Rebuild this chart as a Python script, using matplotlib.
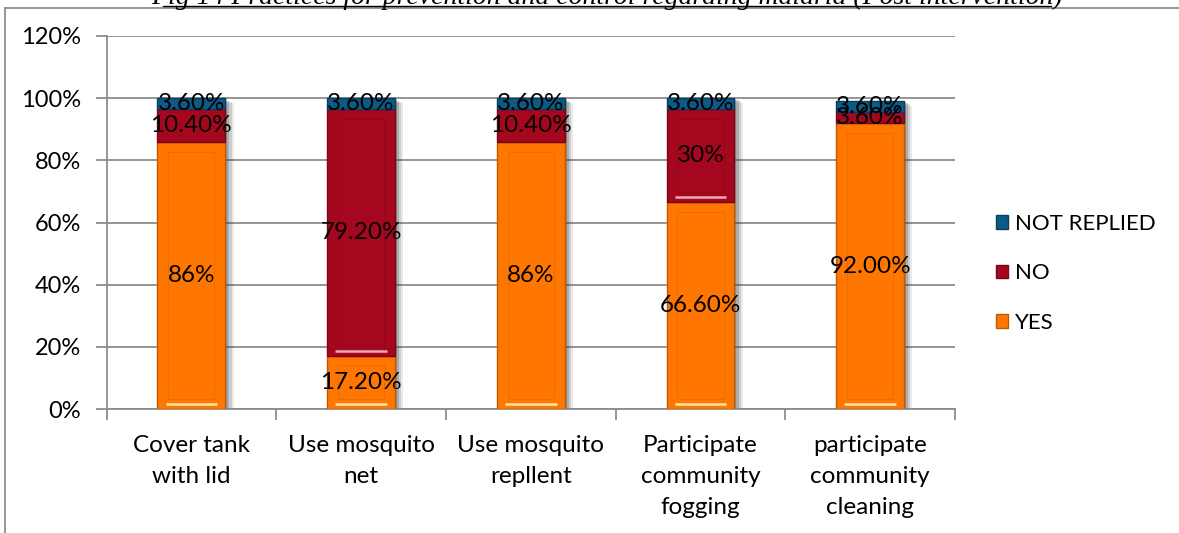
import matplotlib
matplotlib.use("Agg")
import matplotlib.pyplot as plt
import matplotlib.patheffects as pe
from matplotlib.patches import Patch
from matplotlib.lines import Line2D
import numpy as np

categories = ["Cover tank\nwith lid", "Use mosquito\nnet", "Use mosquito\nrepllent",
              "Participate\ncommunity\nfogging", "participate\ncommunity\ncleaning"]
yes_vals = [86.0, 17.2, 86.0, 66.6, 92.0]
no_vals = [10.4, 79.2, 10.4, 30.0, 3.6]
nr_vals = [3.6, 3.6, 3.6, 3.6, 3.6]
yes_labels = ["86%", "17.20%", "86%", "66.60%", "92.00%"]
no_labels = ["10.40%", "79.20%", "10.40%", "30%", "3.60%"]
nr_labels = ["3.60%", "3.60%", "3.60%", "3.60%", "3.60%"]
yticks = [0, 20, 40, 60, 80, 100, 120]

C_YES = "#FF7700"
C_NO = "#A5071E"
C_NR = "#0C5A86"
E_YES = "#C05A00"
E_NO = "#7A0516"
E_NR = "#083E5E"

FONT = "Lato"
FS_TICK = 17
FS_CAT = 17.5
FS_BAR = 17.5
FS_LEG = 16

W, H = 1179, 533
fig = plt.figure(figsize=(W / 100, H / 100), dpi=100)
ax = fig.add_axes([106.5 / W, 1 - 409 / H, (955 - 106.5) / W, (409 - 36) / H])

x = np.arange(len(categories))
w = 0.40
yes = np.array(yes_vals)
no = np.array(no_vals)
nr = np.array(nr_vals)
total = yes + no + nr

# soft drop shadow behind each full stack (layered to fake a blur)
shadow = [pe.SimplePatchShadow(offset=(o, -o * 0.6), shadow_rgbFace="#3A3A3A", alpha=a)
          for o, a in [(6, 0.10), (4.5, 0.16), (3, 0.22), (1.5, 0.25)]]
ax.bar(x, total, w, color="white", zorder=2, path_effects=shadow + [pe.Normal()])

segments = [
    (yes, np.zeros_like(yes), C_YES, E_YES, yes_labels, "#FFE7A8"),
    (no, yes, C_NO, E_NO, no_labels, "#F0A9B4"),
    (nr, yes + no, C_NR, E_NR, nr_labels, "#8FB9D6"),
]
for vals, bottoms, fc, ec, labels, hl in segments:
    ax.bar(x, vals, w, bottom=bottoms, color=fc, edgecolor=ec, linewidth=1.0, zorder=3)
    # bevel: faint inner frame and light bottom highlight on taller segments
    for xi, v, b in zip(x, vals, bottoms):
        if v > 15:
            ax.add_patch(plt.Rectangle((xi - w * 0.34, b + 3.2), w * 0.68, v - 6.4,
                                       fill=False, edgecolor=ec, linewidth=0.7,
                                       alpha=0.35, zorder=4))
            ax.hlines(b + 1.6, xi - w * 0.38, xi + w * 0.38, colors=hl,
                      linewidth=1.8, zorder=4)
    for xi, v, b, lab in zip(x, vals, bottoms, labels):
        ax.text(xi, b + v / 2, lab, ha="center", va="center",
                fontsize=FS_BAR, family=FONT, color="black", zorder=6)

ax.set_xlim(-0.5, len(categories) - 0.5)
ax.set_ylim(0, 120)
ax.set_yticks(yticks)
ax.set_yticklabels([f"{t}%" for t in yticks], fontsize=FS_TICK, family=FONT)
ax.tick_params(axis="y", length=8, width=1.3, color="#8C8C8C", pad=10.5)

ax.set_xticks(np.arange(-0.5, len(categories)), minor=False)
ax.set_xticklabels([])
ax.tick_params(axis="x", which="major", length=8, width=1.3, color="#8C8C8C", direction="out")
ax.set_xticks(x, minor=True)
ax.set_xticklabels(categories, minor=True, fontsize=FS_CAT, family=FONT, linespacing=1.6)
ax.tick_params(axis="x", which="minor", length=0, pad=18.5)

ax.yaxis.grid(True, color="#8C8C8C", linewidth=1.3, zorder=0)
ax.set_axisbelow(True)
for s in ["top", "right"]:
    ax.spines[s].set_visible(False)
for s in ["left", "bottom"]:
    ax.spines[s].set_color("#8C8C8C")
    ax.spines[s].set_linewidth(1.3)

handles = [Patch(facecolor=C_NR, edgecolor=E_NR, label="NOT REPLIED"),
           Patch(facecolor=C_NO, edgecolor=E_NO, label="NO"),
           Patch(facecolor=C_YES, edgecolor=E_YES, label="YES")]
fig.legend(handles=handles, loc="upper left", bbox_to_anchor=(996 / W, 1 - 214 / H),
           frameon=False, prop={"family": FONT, "size": FS_LEG},
           handlelength=0.55, handleheight=0.55, handletextpad=0.3, labelspacing=1.32,
           borderaxespad=0, borderpad=0)

# chart frame (left and top border)
fig.add_artist(Line2D([5 / W, 5 / W], [0, 1 - 8 / H], color="#8C8C8C", linewidth=1.3))
fig.add_artist(Line2D([5 / W, 1], [1 - 8 / H, 1 - 8 / H], color="#8C8C8C", linewidth=1.3))

# caption above the chart
fig.text(607 / W, 1 - 4 / H, "Fig 14 Practices for prevention and control regarding malaria (Post intervention)",
         ha="center", va="baseline", fontsize=20, family="Liberation Serif", style="italic")
fig.add_artist(Line2D([163 / W, 1051 / W], [1 - 5.5 / H, 1 - 5.5 / H], color="black", linewidth=1.0))

fig.savefig("out.png", dpi=100)
